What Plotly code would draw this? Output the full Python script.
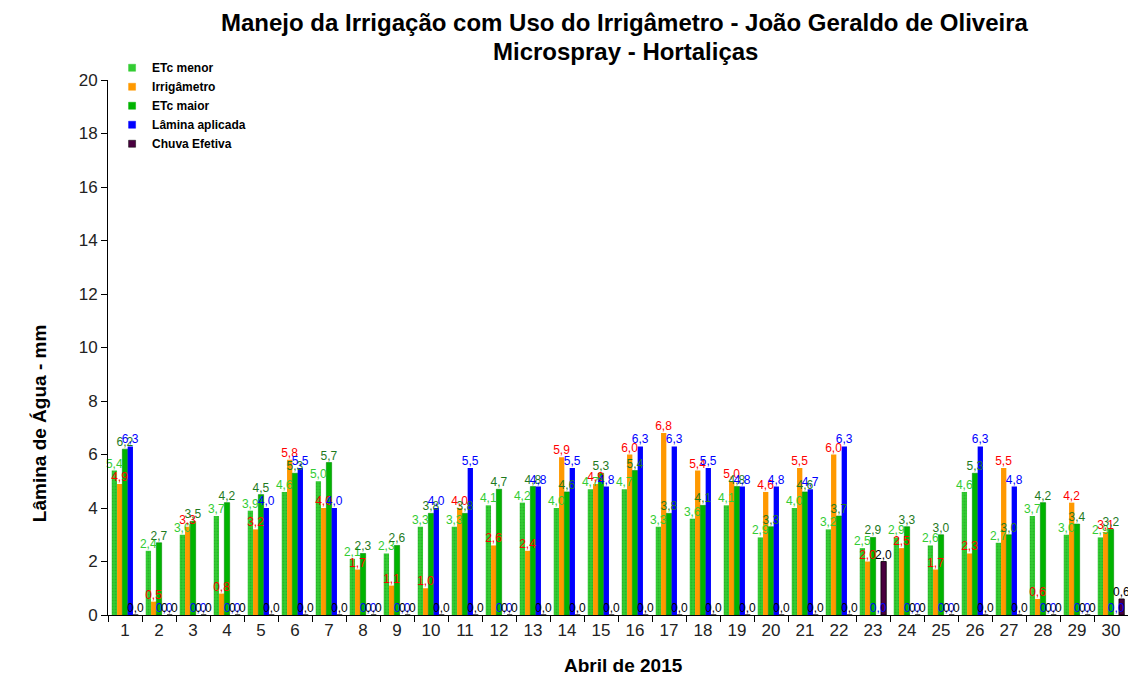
import plotly.graph_objects as go

# Abril de 2015 - lâminas diárias (mm)
dias = [str(d) for d in range(1, 31)]

etc_menor = [5.4, 2.4, 3.0, 3.7, 3.9, 4.6, 5.0, 2.1, 2.3, 3.3,
             3.3, 4.1, 4.2, 4.0, 4.7, 4.7, 3.3, 3.6, 4.1, 2.9,
             4.0, 3.2, 2.5, 2.9, 2.6, 4.6, 2.7, 3.7, 3.0, 2.9]
irrigametro = [4.9, 0.5, 3.3, 0.8, 3.2, 5.8, 4.0, 1.7, 1.1, 1.0,
               4.0, 2.6, 2.4, 5.9, 4.9, 6.0, 6.8, 5.4, 5.0, 4.6,
               5.5, 6.0, 2.0, 2.5, 1.7, 2.3, 5.5, 0.6, 4.2, 3.1]
etc_maior = [6.2, 2.7, 3.5, 4.2, 4.5, 5.3, 5.7, 2.3, 2.6, 3.8,
             3.8, 4.7, 4.8, 4.6, 5.3, 5.4, 3.8, 4.1, 4.8, 3.3,
             4.6, 3.7, 2.9, 3.3, 3.0, 5.3, 3.0, 4.2, 3.4, 3.2]
lamina = [6.3, 0.0, 0.0, 0.0, 4.0, 5.5, 4.0, 0.0, 0.0, 4.0,
          5.5, 0.0, 4.8, 5.5, 4.8, 6.3, 6.3, 5.5, 4.8, 4.8,
          4.7, 6.3, 0.0, 0.0, 0.0, 6.3, 4.8, 0.0, 0.0, 0.0]
chuva = [0.0, 0.0, 0.0, 0.0, 0.0, 0.0, 0.0, 0.0, 0.0, 0.0,
         0.0, 0.0, 0.0, 0.0, 0.0, 0.0, 0.0, 0.0, 0.0, 0.0,
         0.0, 0.0, 2.0, 0.0, 0.0, 0.0, 0.0, 0.0, 0.0, 0.6]

yticks = [0, 2, 4, 6, 8, 10, 12, 14, 16, 18, 20]

FONT = "Liberation Sans, Arial, sans-serif"

series = [
    ("ETc menor", etc_menor, "#33CC33", "#33CC33",
     dict(shape=".", fgcolor="#1E9E1E", size=3, solidity=0.35)),
    ("Irrigâmetro", irrigametro, "#FF9900", "#FF0000", None),
    ("ETc maior", etc_maior, "#00B400", "#1E7A1E", None),
    ("Lâmina aplicada", lamina, "#0000FF", "#0000FF", None),
    ("Chuva Efetiva", chuva, "#4A0040", "#000000", None),
]

fig = go.Figure()

# bars
for i, (name, vals, color, label_color, pattern) in enumerate(series):
    marker = dict(color=color, line=dict(width=0))
    if pattern:
        marker["pattern"] = pattern
    if name == "ETc maior":
        marker["line"] = dict(color="#008A00", width=0.6)
    if name == "Chuva Efetiva":
        marker["line"] = dict(color="#000000", width=0.8)
    fig.add_trace(go.Bar(
        x=dias, y=vals, name=name, marker=marker,
        offsetgroup=str(i), showlegend=False, hoverinfo="skip",
    ))

# value labels, drawn after all bars so they sit on top
for i, (name, vals, color, label_color, pattern) in enumerate(series):
    fig.add_trace(go.Bar(
        x=dias, y=vals, name=name, offsetgroup=str(i),
        marker=dict(color="rgba(0,0,0,0)", line=dict(width=0)),
        texttemplate="%{y:.1f}", textposition="outside", textangle=0,
        textfont=dict(family=FONT, size=12, color=label_color),
        constraintext="none", cliponaxis=False, showlegend=False,
    ))

# legend entries with small square keys
for name, vals, color, label_color, pattern in series:
    fig.add_trace(go.Scatter(
        x=[None], y=[None], mode="markers", name=name,
        marker=dict(symbol="square", size=7, color=color,
                    line=dict(color="#000000" if name == "Chuva Efetiva" else color, width=0.5)),
    ))

fig.update_layout(
    width=1128, height=677,
    margin=dict(l=108, r=0, t=80, b=62),
    paper_bgcolor="white", plot_bgcolor="white",
    barmode="group", bargap=0.22, bargroupgap=0.0,
    separators=",.",
    font=dict(family=FONT, color="#000000"),
    showlegend=True,
    legend=dict(x=0.004, y=1.05, xanchor="left", yanchor="top",
                bgcolor="rgba(0,0,0,0)", borderwidth=0,
                font=dict(family=FONT, size=12, color="#000000", weight="bold"),
                itemwidth=30, tracegroupgap=0),
    xaxis=dict(type="category", showline=True, linecolor="#000000", linewidth=1,
               ticks="outside", tickson="boundaries", ticklen=6, tickcolor="#000000",
               tickfont=dict(family=FONT, size=17, color="#222222"),
               showgrid=False, zeroline=False),
    yaxis=dict(range=[0, 20], tickvals=yticks, ticktext=[str(t) for t in yticks],
               showline=True, linecolor="#000000", linewidth=1,
               ticks="outside", ticklen=6, tickcolor="#000000",
               tickfont=dict(family=FONT, size=17, color="#222222"),
               showgrid=False, zeroline=False),
    annotations=[
        dict(text="<b>Manejo da Irrigação com Uso do Irrigâmetro - João Geraldo de Oliveira</b>",
             xref="paper", yref="paper", x=0.507, y=1.1066, xanchor="center", yanchor="middle",
             showarrow=False, font=dict(family=FONT, size=24, color="#000000")),
        dict(text="<b>Microspray - Hortaliças</b>",
             xref="paper", yref="paper", x=0.507, y=1.0524, xanchor="center", yanchor="middle",
             showarrow=False, font=dict(family=FONT, size=24, color="#000000")),
        dict(text="<b>Lâmina de Água - mm</b>", textangle=-90,
             xref="paper", yref="paper", x=-0.067, y=0.358, xanchor="center", yanchor="middle",
             showarrow=False, font=dict(family=FONT, size=19, color="#000000")),
        dict(text="<b>Abril de 2015</b>",
             xref="paper", yref="paper", x=0.505, y=-0.094, xanchor="center", yanchor="middle",
             showarrow=False, font=dict(family=FONT, size=19, color="#000000")),
    ],
)

fig.write_html("out.html")
